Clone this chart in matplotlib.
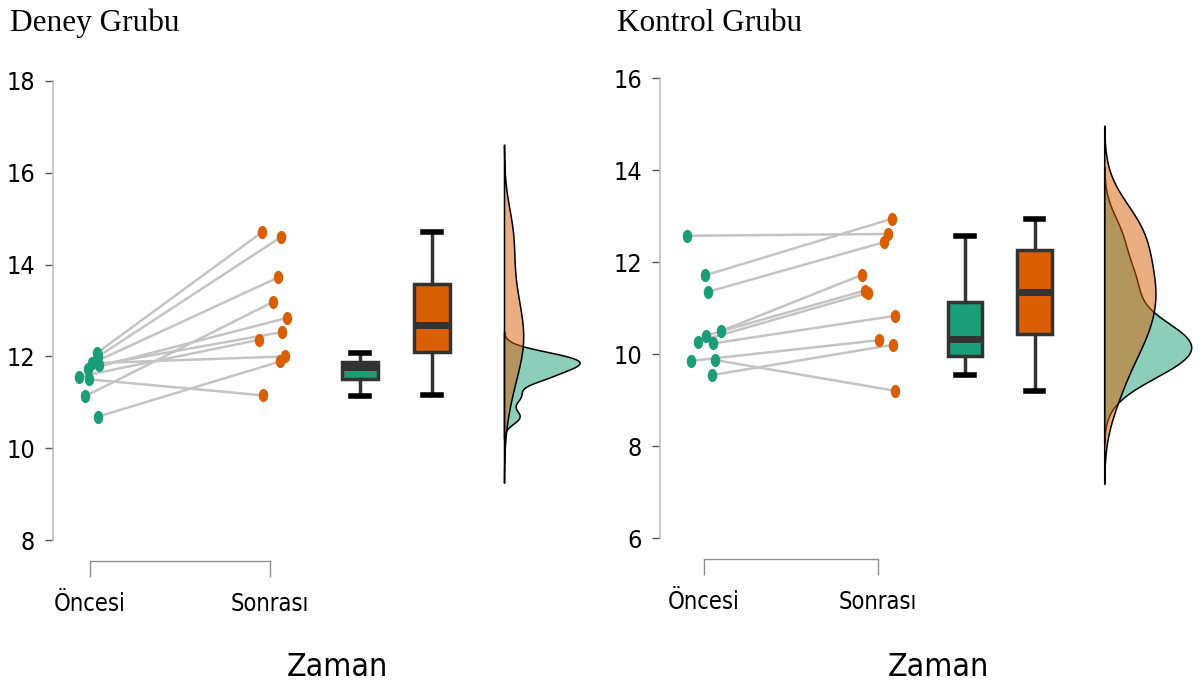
import numpy as np
import matplotlib
matplotlib.use("Agg")
import matplotlib.pyplot as plt
from matplotlib import font_manager
from matplotlib.path import Path
from matplotlib.transforms import Affine2D
from matplotlib.colors import to_rgba

# values (pairs: before -> after)
deney_once = [12.07, 12.00, 11.85, 11.90, 11.82, 11.72, 11.56, 11.50, 11.13, 10.69]
deney_sonra = [14.71, 14.60, 12.00, 13.72, 12.53, 12.84, 12.36, 11.15, 13.19, 11.89]
deney_once_jit = [0.037, 0.046, 0.011, 0.039, 0.050, -0.011, -0.059, -0.006, -0.028, 0.046]
deney_sonra_jit = [-0.043, 0.061, 0.085, 0.046, 0.067, 0.096, -0.063, -0.037, 0.018, 0.057]

kontrol_once = [12.57, 11.71, 11.35, 10.50, 10.40, 10.27, 10.23, 9.85, 9.87, 9.54]
kontrol_sonra = [12.61, 12.94, 12.43, 11.72, 11.38, 11.33, 10.83, 10.30, 9.20, 10.20]
kontrol_once_jit = [-0.099, 0.006, 0.021, 0.098, 0.011, -0.036, 0.052, -0.076, 0.063, 0.044]
kontrol_sonra_jit = [0.057, 0.080, 0.034, -0.092, -0.075, -0.057, 0.098, 0.004, 0.098, 0.086]

x_labels = ['Öncesi', 'Sonrası']
titles = ['Deney Grubu', 'Kontrol Grubu']
green = '#1B9E77'
orange = '#D95F02'

# narrow sans if there is one
fonts = font_manager.fontManager.ttflist
if any(f.name == 'Liberation Sans Narrow' for f in fonts):
    plt.rcParams['font.family'] = ['Liberation Sans Narrow', 'DejaVu Sans']
elif any(f.name == 'DejaVu Sans' and f.stretch == 'condensed' for f in fonts):
    plt.rcParams['font.family'] = ['DejaVu Sans']
    plt.rcParams['font.stretch'] = 'condensed'
else:
    plt.rcParams['font.family'] = ['Liberation Sans', 'DejaVu Sans']

ell = Affine2D().scale(0.72, 1.0).transform_path(Path.unit_circle())


def kde(v, grid):
    v = np.asarray(v)
    n = len(v)
    q1, q3 = np.percentile(v, [25, 75])
    bw = 0.9 * min(np.std(v, ddof=1), (q3 - q1) / 1.34) * n ** -0.2
    d = np.exp(-0.5 * ((grid[:, None] - v[None, :]) / bw) ** 2).sum(axis=1)
    return d / (n * bw * np.sqrt(2 * np.pi)), bw


def panel(ax, pre, post, pre_j, post_j, ylim, width):
    xa = 1 + np.array(pre_j)
    xb = 2 + np.array(post_j)
    for i in range(len(pre)):
        ax.plot([xa[i], xb[i]], [pre[i], post[i]], color='#c4c4c4', lw=1.8, zorder=1)
    ax.plot(xa, pre, ls='none', marker=ell, ms=9.5, color=green, mec='none', zorder=3)
    ax.plot(xb, post, ls='none', marker=ell, ms=9.5, color=orange, mec='none', zorder=3)

    bp = ax.boxplot([pre, post], positions=[2.5, 2.9], widths=0.2, showfliers=False,
                    patch_artist=True, capwidths=0.1, manage_ticks=False)
    for patch, c in zip(bp['boxes'], [green, orange]):
        patch.set_facecolor(c)
        patch.set_edgecolor('#333333')
        patch.set_linewidth(2.5)
    for m in bp['medians']:
        m.set_color('#333333')
        m.set_linewidth(5)
    for w in bp['whiskers']:
        w.set_color('#333333')
        w.set_linewidth(2.5)
    for c in bp['caps']:
        c.set_color('black')
        c.set_linewidth(4)

    # half violins
    dens = []
    for v in [pre, post]:
        _, bw = kde(v, np.array([0.0]))
        g = np.linspace(min(v) - 3 * bw, max(v) + 3 * bw, 400)
        d, _ = kde(v, g)
        dens.append((g, d))
    scale = width / max(d.max() for _, d in dens)
    for (g, d), c in zip(dens, [green, orange]):
        ax.fill_betweenx(g, 3.3, 3.3 + d * scale, facecolor=to_rgba(c, 0.5),
                         edgecolor='black', lw=1.1, zorder=2)

    ax.set_ylim(*ylim)
    ax.set_yticks(np.arange(ylim[0], ylim[1] + 1, 2))
    ax.set_xticks([1, 2])
    ax.set_xticklabels(x_labels)
    ax.tick_params(axis='y', labelsize=18, length=6, width=1, color='#555555', pad=7)
    ax.tick_params(axis='x', labelsize=17, length=11.5, width=1, color='#909090', pad=11)
    for s in ['top', 'right']:
        ax.spines[s].set_visible(False)
    ax.spines['left'].set_bounds(*ylim)
    ax.spines['left'].set_color('#c0c0c0')
    ax.spines['left'].set_linewidth(1.2)
    ax.spines['bottom'].set_bounds(1, 2)
    ax.spines['bottom'].set_position(('outward', 15))
    ax.spines['bottom'].set_color('#909090')
    ax.spines['bottom'].set_linewidth(1)


fig = plt.figure(figsize=(12, 6.93), dpi=100)
ax1 = fig.add_axes([53 / 1200, 1 - 540 / 693, 547 / 1200, 459 / 693])
ax1.set_xlim(1 - 37 / 180, 1 + 510 / 180)
panel(ax1, deney_once, deney_sonra, deney_once_jit, deney_sonra_jit, (8, 18), 0.42)

ax2 = fig.add_axes([660 / 1200, 1 - 538 / 693, 540 / 1200, 460 / 693])
ax2.set_xlim(1 - 44 / 174, 1 + 496 / 174)
panel(ax2, kontrol_once, kontrol_sonra, kontrol_once_jit, kontrol_sonra_jit, (6, 16), 0.5)

fig.text(10 / 1200, 1 - 31 / 693, titles[0], family='Liberation Serif', stretch='normal',
         fontsize=22.5, va='baseline')
fig.text(617 / 1200, 1 - 31 / 693, titles[1], family='Liberation Serif', stretch='normal',
         fontsize=22.5, va='baseline')
fig.text(337 / 1200, 1 - 668 / 693, 'Zaman', fontsize=23, ha='center', va='center')
fig.text(938 / 1200, 1 - 668 / 693, 'Zaman', fontsize=23, ha='center', va='center')

fig.savefig('out.png', dpi=100)
